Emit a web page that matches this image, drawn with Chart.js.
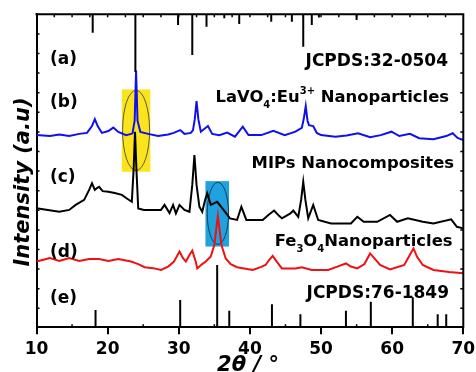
<!DOCTYPE html>
<html>
<head>
<meta charset="utf-8">
<script src="https://cdn.jsdelivr.net/npm/chart.js@4.4.0/dist/chart.umd.min.js"></script>
<style>
  body { margin: 0; background: #fff; }
  #xrd { display: block; }
</style>
</head>
<body>
<canvas id="xrd" width="476" height="372"></canvas>
<script>
// 2theta in degrees, intensity in arbitrary units (curves already offset as in the figure)
var lavoAngle = [10, 11.9, 13.2, 14.6, 16.0, 17.1, 17.8, 18.2, 18.6, 19.2, 20.1, 20.8, 21.5, 22.6, 23.3,
  23.5, 23.8, 24.0, 24.2, 24.6, 25.7, 27.1, 28.5, 29.3, 30.2, 30.8, 31.7, 32.0, 32.25, 32.5, 32.75, 33.1,
  34.1, 34.7, 35.7, 36.8, 37.9, 39.0, 39.8, 41.6, 43.3, 44.9, 46.4, 47.3, 47.6, 47.85, 48.1, 48.3, 48.9,
  49.4, 50.0, 52.0, 53.6, 55.2, 56.9, 58.4, 59.9, 61.0, 62.5, 63.8, 65.8, 67.6, 68.5, 69.2, 70];
var lavoInt = [61.4, 61.1, 61.6, 61.1, 61.8, 62.1, 64.3, 66.5, 64.3, 62.1, 62.7, 63.8, 62.4, 61.4, 61.8,
  62.0, 66.0, 82.0, 66.0, 62.4, 61.8, 61.1, 61.6, 62.1, 63.0, 61.8, 62.1, 63.0, 66.5, 72.3, 66.5, 62.5,
  64.3, 61.8, 61.4, 62.2, 60.9, 64.1, 61.4, 61.4, 62.8, 61.4, 62.5, 63.7, 67.0, 70.7, 66.0, 64.6, 64.3,
  62.1, 61.4, 60.9, 61.3, 62.0, 60.7, 61.4, 62.5, 61.1, 61.8, 60.4, 60.1, 61.1, 62.0, 60.5, 59.8];

var mipAngle = [10, 11.6, 13.2, 14.6, 15.5, 16.7, 17.4, 17.8, 18.2, 18.5, 18.8, 19.3, 20.1, 21.0, 22.0,
  22.6, 23.4, 23.65, 23.85, 24.05, 24.3, 25.1, 26.4, 27.5, 28.0, 28.7, 29.2, 29.6, 30.1, 30.8,
  31.5, 31.9, 32.2, 32.5, 32.9, 33.3, 33.7, 34.0, 34.5, 35.0, 35.4, 36.3, 37.2, 38.2, 38.8,
  39.5, 40.7, 41.8, 42.6, 43.4, 44.1, 44.5, 45.7, 46.1, 46.8, 47.2, 47.5, 47.8, 48.2, 48.9,
  49.6, 51.4, 54.2, 55.1, 56.0, 57.9, 59.7, 60.7, 62.2, 64.3, 65.8, 68.3, 69.1, 70];
var mipInt = [38.0, 37.5, 36.9, 37.5, 39.1, 40.7, 43.9, 46.0, 43.9, 44.5, 44.9, 43.5, 43.3, 42.9, 42.3,
  41.3, 40.1, 50.3, 62.5, 50.3, 38.0, 37.5, 37.5, 37.5, 39.1, 36.5, 39.1, 36.4, 39.1, 37.5,
  36.9, 45.5, 55.0, 45.5, 38.5, 36.9, 40.7, 42.8, 39.1, 39.7, 40.1, 37.5, 34.8, 34.3, 38.5,
  34.3, 34.3, 34.3, 35.9, 37.3, 35.6, 34.8, 36.4, 37.3, 35.3, 40.7, 46.5, 40.7, 34.8, 39.1,
  34.3, 33.2, 33.2, 35.3, 33.7, 33.7, 35.9, 33.7, 34.8, 33.7, 33.2, 34.5, 32.1, 31.6];

var feAngle = [10, 11.9, 13.2, 14.6, 16.0, 17.4, 18.8, 20.1, 21.5, 23.3, 24.3, 25.2, 26.4, 27.5, 28.5,
  29.3, 30.1, 30.6, 31.0, 31.5, 31.9, 32.4, 32.6, 33.3, 33.8, 34.5, 35.0, 35.5, 36.0, 36.6,
  37.3, 38.2, 40.4, 41.6, 42.2, 42.7, 43.2, 43.8, 44.5, 46.4, 47.3, 48.7, 51.0, 52.3, 53.5,
  54.2, 55.1, 56.1, 56.9, 57.6, 58.3, 59.7, 61.7, 62.4, 63.0, 63.5, 64.3, 65.8, 68.0, 70];
var feInt = [21.0, 22.1, 21.2, 22.1, 21.2, 21.8, 21.8, 21.2, 21.8, 21.0, 20.2, 19.2, 18.9, 18.3, 19.4,
  20.9, 24.2, 22.1, 21.0, 23.1, 24.5, 20.9, 18.8, 20.2, 21.0, 22.6, 26.3, 35.6, 26.3, 22.0,
  20.2, 19.2, 18.3, 19.3, 19.9, 21.5, 22.8, 20.9, 18.8, 18.8, 19.2, 18.3, 18.3, 19.4, 20.4,
  19.4, 18.8, 20.2, 23.6, 21.8, 19.9, 18.5, 19.9, 22.8, 25.2, 22.5, 19.9, 18.3, 17.7, 17.3];

// reference patterns: JCPDS 32-0504 hangs from the top, JCPDS 76-1849 stands on the bottom
var ref32Angle = [17.9, 23.9, 29.9, 31.9, 33.9, 36.4, 38.5, 43.0, 45.9, 47.5, 48.7, 49.7, 55.0];
var ref32Int = [5.9, 18.4, 3.4, 13.0, 4.0, 1.3, 3.1, 2.4, 2.4, 10.4, 3.4, 1.0, 1.8];
var ref76Angle = [18.3, 30.2, 35.4, 37.1, 43.1, 47.1, 53.5, 57.0, 62.9, 66.4, 67.6];
var ref76Int = [5.5, 8.7, 19.9, 5.3, 7.4, 4.2, 5.3, 8.2, 9.6, 4.2, 4.2];

var xTicks = [10, 20, 30, 40, 50, 60, 70];

function pts(xs, ys) {
  return xs.map(function (x, i) { return { x: x, y: ys[i] }; });
}
function sticks(xs, lens, base, dir) {
  var out = [];
  xs.forEach(function (x, i) {
    out.push({ x: x, y: base }, { x: x, y: base + dir * lens[i] }, { x: x, y: null });
  });
  return out;
}

var FONT = "'DejaVu Sans', Verdana, sans-serif";
var bigFont = 'bold 17px ' + FONT;
var midFont = 'bold 16.4px ' + FONT;
var smallFont = 'bold 10px ' + FONT;

// text with sub/superscripts, right-aligned at xr
function drawRuns(ctx, runs, xr, y) {
  var w = 0;
  runs.forEach(function (r) {
    ctx.font = r.s ? smallFont : midFont;
    w += ctx.measureText(r.t).width;
  });
  var x = xr - w;
  runs.forEach(function (r) {
    ctx.font = r.s ? smallFont : midFont;
    var dy = r.s === 'sub' ? 6 : (r.s === 'sup' ? -8 : 0);
    ctx.fillText(r.t, x, y + dy);
    x += ctx.measureText(r.t).width;
  });
}

var highlights = {
  id: 'highlights',
  beforeDatasetsDraw: function (chart) {
    var ctx = chart.ctx, xs = chart.scales.x, ys = chart.scales.y;
    var boxes = [
      { x0: 22.0, x1: 26.0, y0: 49.7, y1: 76.0, cx: 24.0, cy: 62.9, rx: 1.9, ry: 12.8, fill: '#fbe41c', edge: '#5a5a3a' },
      { x0: 33.75, x1: 37.07, y0: 25.8, y1: 46.7, cx: 35.5, cy: 36.4, rx: 1.5, ry: 9.9, fill: '#1ea2e0', edge: '#1d3a55' }
    ];
    ctx.save();
    boxes.forEach(function (b) {
      var l = xs.getPixelForValue(b.x0), r = xs.getPixelForValue(b.x1);
      var t = ys.getPixelForValue(b.y1), btm = ys.getPixelForValue(b.y0);
      ctx.fillStyle = b.fill;
      ctx.fillRect(l, t, r - l, btm - t);
      var cx = xs.getPixelForValue(b.cx), cy = ys.getPixelForValue(b.cy);
      var rx = xs.getPixelForValue(b.cx + b.rx) - cx, ry = cy - ys.getPixelForValue(b.cy + b.ry);
      ctx.beginPath();
      ctx.ellipse(cx, cy, rx, ry, 0, 0, Math.PI * 2);
      ctx.strokeStyle = b.edge;
      ctx.lineWidth = 1;
      ctx.stroke();
    });
    ctx.restore();
  }
};

var frame = {
  id: 'frame',
  afterDraw: function (chart) {
    var ctx = chart.ctx, a = chart.chartArea, xs = chart.scales.x;
    ctx.save();
    ctx.strokeStyle = '#000';
    ctx.lineWidth = 2;
    ctx.beginPath();
    ctx.moveTo(a.left - 1, a.top);
    ctx.lineTo(a.right, a.top);
    ctx.lineTo(a.right, a.bottom + 1);
    ctx.stroke();
    // small inward ticks
    ctx.lineWidth = 1.5;
    ctx.beginPath();
    for (var v = 12.5; v < 70; v += 2.5) {
      var px = xs.getPixelForValue(v);
      ctx.moveTo(px, a.top);
      ctx.lineTo(px, a.top + 3);
      if (v % 5 === 0 && v % 10 !== 0) {
        ctx.moveTo(px, a.bottom);
        ctx.lineTo(px, a.bottom - 3);
      }
    }
    for (var py = a.top + 19.6; py < a.bottom - 5; py += 19.6) {
      ctx.moveTo(a.right, py);
      ctx.lineTo(a.right - 3, py);
      ctx.moveTo(a.left, py);
      ctx.lineTo(a.left + 3, py);
    }
    ctx.stroke();

    // curve labels
    ctx.fillStyle = '#000';
    ctx.textBaseline = 'alphabetic';
    ctx.font = bigFont;
    ctx.textAlign = 'left';
    ctx.fillText('(a)', 50, 63.5);
    ctx.fillText('(b)', 50, 106.5);
    ctx.fillText('(c)', 50, 181.5);
    ctx.fillText('(d)', 50, 256.5);
    ctx.fillText('(e)', 50, 303);
    ctx.textAlign = 'right';
    ctx.fillText('JCPDS:32-0504', 448, 66);
    ctx.fillText('JCPDS:76-1849', 449, 298.3);
    ctx.font = midFont;
    ctx.fillText('MIPs Nanocomposites', 454, 168.3);
    ctx.textAlign = 'left';
    drawRuns(ctx, [{ t: 'LaVO' }, { t: '4', s: 'sub' }, { t: ':Eu' }, { t: '3+', s: 'sup' }, { t: ' Nanoparticles' }], 449, 102);
    drawRuns(ctx, [{ t: 'Fe' }, { t: '3', s: 'sub' }, { t: 'O' }, { t: '4', s: 'sub' }, { t: 'Nanoparticles' }], 452.5, 245.7);

    // axis titles
    ctx.font = 'italic bold 21px ' + FONT;
    ctx.textAlign = 'center';
    ctx.fillText('2\u03b8 / \u00b0', 248, 371);
    ctx.translate(28.5, 182);
    ctx.rotate(-Math.PI / 2);
    ctx.fillText('Intensity (a.u)', 0, 0);
    ctx.restore();
  }
};

var lineStyle = { pointRadius: 0, borderWidth: 2, tension: 0, fill: false, spanGaps: false };

new Chart(document.getElementById('xrd'), {
  type: 'line',
  data: {
    datasets: [
      Object.assign({ label: 'JCPDS:32-0504', data: sticks(ref32Angle, ref32Int, 100, -1), borderColor: '#000', borderCapStyle: 'butt' }, lineStyle),
      Object.assign({ label: 'LaVO4:Eu3+', data: pts(lavoAngle, lavoInt), borderColor: '#1010ee' }, lineStyle),
      Object.assign({ label: 'MIPs', data: pts(mipAngle, mipInt), borderColor: '#000' }, lineStyle),
      Object.assign({ label: 'Fe3O4', data: pts(feAngle, feInt), borderColor: '#ee1111' }, lineStyle),
      Object.assign({ label: 'JCPDS:76-1849', data: sticks(ref76Angle, ref76Int, 0, 1), borderColor: '#000', borderCapStyle: 'butt' }, lineStyle)
    ]
  },
  options: {
    responsive: false,
    animation: false,
    layout: { padding: { top: 14.3, right: 12.7, left: 0, bottom: 0 } },
    plugins: { legend: { display: false }, tooltip: { enabled: false } },
    scales: {
      x: {
        type: 'linear', min: 10, max: 70, position: 'bottom',
        afterBuildTicks: function (s) { s.ticks = xTicks.map(function (v) { return { value: v }; }); },
        ticks: { color: '#000', font: { family: FONT, size: 17, weight: 'bold' }, padding: 5, maxRotation: 0, autoSkip: false },
        grid: { drawOnChartArea: false, color: '#000', lineWidth: 2, tickLength: 7 },
        border: { color: '#000', width: 2 },
        afterFit: function (s) { s.height = 44.7; s.paddingLeft = 0; s.paddingRight = 0; }
      },
      y: {
        min: 0, max: 100,
        ticks: { display: false },
        grid: { drawOnChartArea: false, drawTicks: false },
        border: { color: '#000', width: 2 },
        afterFit: function (s) { s.width = 36.5; s.paddingTop = 0; s.paddingBottom = 0; }
      }
    }
  },
  plugins: [highlights, frame]
});
</script>
</body>
</html>
